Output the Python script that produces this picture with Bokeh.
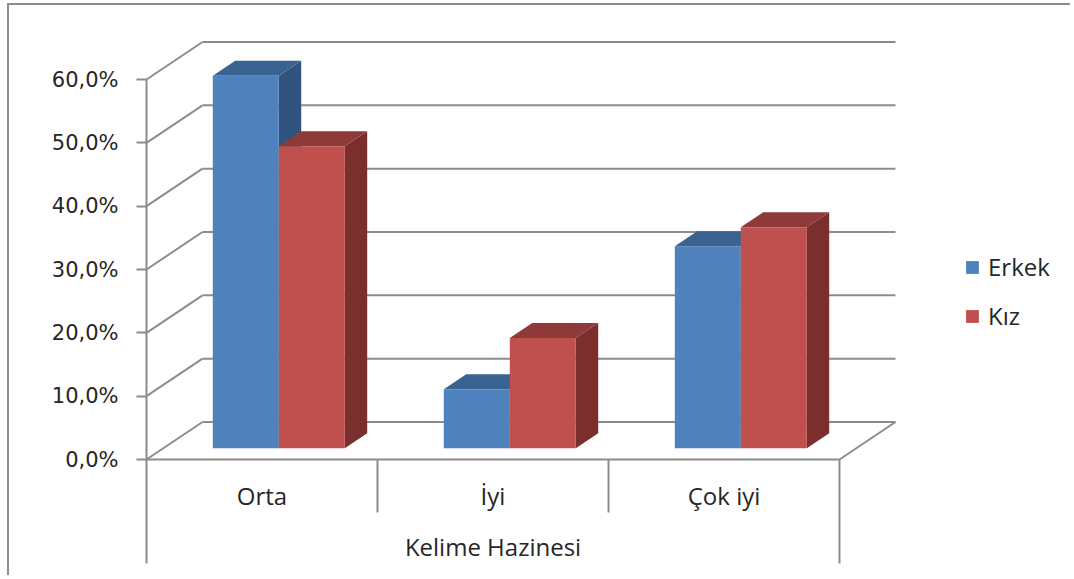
from bokeh.plotting import figure
from bokeh.models import (Range1d, LinearAxis, FixedTicker, CustomJSTickFormatter,
                          Legend, LegendItem, ColumnDataSource)
from bokeh.core.properties import value
from bokeh.embed import file_html
from bokeh.resources import INLINE

# ---------------- data ----------------
categories = ["Orta", "İyi", "Çok iyi"]
series_names = ["Erkek", "Kız"]
erkek = [58.8, 9.3, 31.9]
kiz = [47.7, 17.4, 34.9]
y_ticks = [0, 10, 20, 30, 40, 50, 60]
x_title = "Kelime Hazinesi"

# ---------------- layout constants (pixels) ----------------
PAGE_OX, PAGE_OY = 9, 5      # page position of the canvas (margin + 2px css border)
W, H = 1063, 572
PX_CAT = 231.0               # px per category
PX_PCT = 6.333               # px per percent
ORIGIN_X = 146 - PAGE_OX     # canvas x of front floor left corner
ORIGIN_Y = 459 - PAGE_OY     # canvas y of 0% on front plane
FRAME_LEFT = 140 - PAGE_OX
DEPTH_PX = (56.0, 37.5)      # 3D depth vector (px right, px up)
BAR_FRONT, BAR_BACK = 0.3, 0.7
GAP = 1.5                    # gap width (fraction of bar width)

dx = DEPTH_PX[0] / PX_CAT
dy = DEPTH_PX[1] / PX_PCT
x0 = (FRAME_LEFT - ORIGIN_X) / PX_CAT
x1 = (W - ORIGIN_X) / PX_CAT
y1 = ORIGIN_Y / PX_PCT
y0 = -(H - ORIGIN_Y) / PX_PCT


def ypos(page_y):
    return -(page_y - PAGE_OY - ORIGIN_Y) / PX_PCT


GRID = "#8c8c8c"
TXT = "#262626"

p = figure(width=W, height=H, x_range=Range1d(x0, x1), y_range=Range1d(y0, y1),
           output_backend="svg", toolbar_location=None,
           x_axis_location=None, y_axis_location=None,
           min_border_left=FRAME_LEFT, min_border_right=0,
           min_border_top=0, min_border_bottom=0)
p.outline_line_color = None
p.xgrid.visible = False
p.ygrid.visible = False
p.background_fill_color = "white"
p.border_fill_color = "white"
p.styles = {"border-top": "2px solid #8c8c8c", "border-left": "2px solid #8c8c8c",
            "margin-left": "7px", "margin-top": "3px"}

ncat = len(categories)
top_val = y_ticks[-1]

# ---- walls: left wall diagonals and back wall gridlines ----
p.segment(x0=[0] * len(y_ticks), y0=y_ticks, x1=[dx] * len(y_ticks),
          y1=[t + dy for t in y_ticks], line_color=GRID, line_width=2)
p.segment(x0=[dx] * len(y_ticks), y0=[t + dy for t in y_ticks],
          x1=[ncat + dx] * len(y_ticks), y1=[t + dy for t in y_ticks],
          line_color=GRID, line_width=2)
# floor front edge and right edge
p.segment(x0=[0, ncat], y0=[0, 0], x1=[ncat, ncat + dx], y1=[0, dy],
          line_color=GRID, line_width=2)
# front axis line + outer verticals + category dividers
low_outer = ypos(563)
low_div = ypos(512)
p.segment(x0=[0, ncat] + list(range(1, ncat)),
          y0=[top_val, 0] + [0] * (ncat - 1),
          x1=[0, ncat] + list(range(1, ncat)),
          y1=[low_outer, low_outer] + [low_div] * (ncat - 1),
          line_color=GRID, line_width=2)

# ---- bars ----
w = 1.0 / (2 + GAP)
styles = [
    dict(front="#4F81BD", top="#3B6391", side="#30537F"),
    dict(front="#C0504D", top="#8F3A38", side="#7A2F2D"),
]
front_renderers = []
for s, vals in enumerate([erkek, kiz]):
    xl = [i + GAP / 2 * w + s * w for i in range(ncat)]
    xr = [a + w for a in xl]
    f0x, f0y = BAR_FRONT * dx, BAR_FRONT * dy
    f1x, f1y = BAR_BACK * dx, BAR_BACK * dy
    side_xs = [[r + f0x, r + f1x, r + f1x, r + f0x] for r in xr]
    side_ys = [[f0y, f1y, v + f1y, v + f0y] for v in vals]
    top_xs = [[l + f0x, r + f0x, r + f1x, l + f1x] for l, r in zip(xl, xr)]
    top_ys = [[v + f0y, v + f0y, v + f1y, v + f1y] for v in vals]
    p.patches(xs=side_xs, ys=side_ys, fill_color=styles[s]["side"], line_color=None)
    p.patches(xs=top_xs, ys=top_ys, fill_color=styles[s]["top"], line_color=None)
    src = ColumnDataSource(dict(left=[l + f0x for l in xl], right=[r + f0x for r in xr],
                                bottom=[f0y] * ncat, top=[v + f0y for v in vals]))
    r = p.quad(left="left", right="right", bottom="bottom", top="top", source=src,
               fill_color=styles[s]["front"], line_color=None)
    front_renderers.append(r)

# ---- y axis ----
yaxis = LinearAxis(ticker=FixedTicker(ticks=y_ticks),
                   formatter=CustomJSTickFormatter(code="return tick.toFixed(1).replace('.', ',') + '%';"),
                   axis_line_color=None, major_tick_line_color=GRID, major_tick_line_width=2,
                   major_tick_in=6, major_tick_out=4, minor_tick_line_color=None,
                   major_label_text_font="DejaVu Sans", major_label_text_font_size="21px",
                   major_label_text_color=TXT, major_label_standoff=18)
p.add_layout(yaxis, "left")

# ---- category labels and title ----
cat_y = ypos(495)
title_y = ypos(546)
p.text(x=[i + 0.5 for i in range(ncat)], y=[cat_y] * ncat, text=categories,
       text_font=value("Open Sans"), text_font_size="24px", text_color=TXT,
       text_align="center", text_baseline="middle")
p.text(x=[ncat / 2], y=[title_y], text=[x_title],
       text_font=value("Open Sans"), text_font_size="24px", text_color=TXT,
       text_align="center", text_baseline="middle")

# ---- legend ----
legend = Legend(items=[LegendItem(label=n, renderers=[r]) for n, r in zip(series_names, front_renderers)],
                location=(964 - 140, (H + PAGE_OY) - 332), orientation="vertical",
                glyph_width=16, glyph_height=16, label_height=24, spacing=16,
                label_standoff=8, padding=0, margin=0,
                border_line_color=None, background_fill_alpha=0,
                label_text_font="Open Sans", label_text_font_size="24px", label_text_color=TXT)
p.add_layout(legend, "center")

open("out.html", "w").write(file_html(p, INLINE))
